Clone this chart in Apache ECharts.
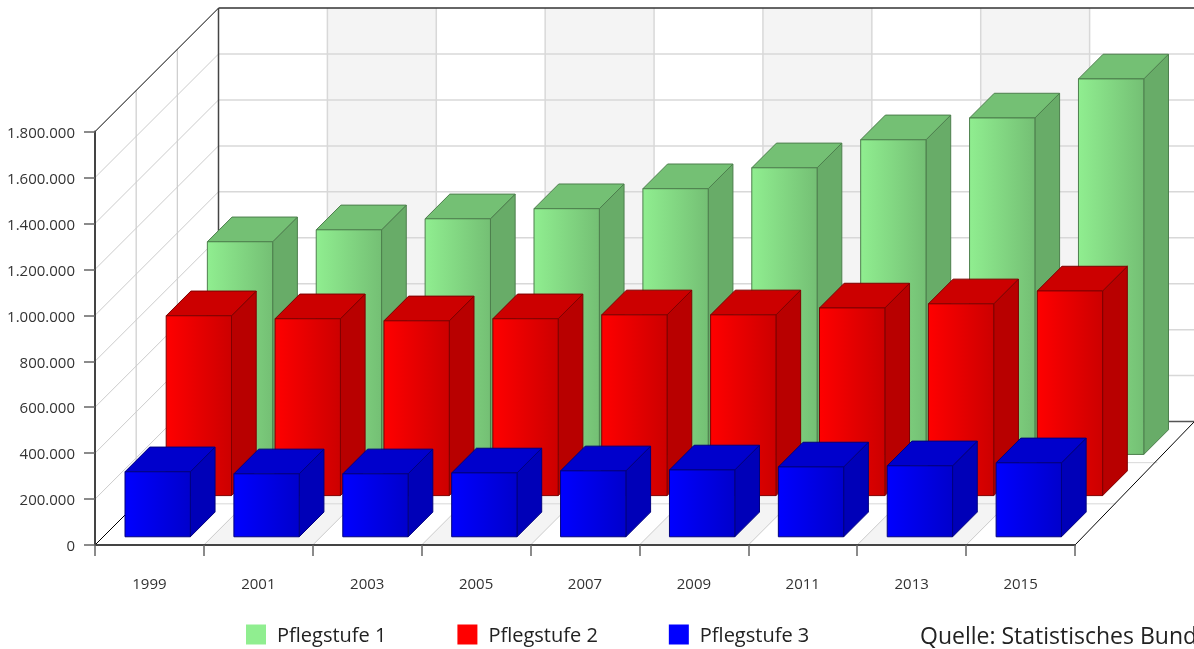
<!DOCTYPE html>
<html>
<head>
<meta charset="utf-8">
<style>html,body{margin:0;padding:0;background:#fff;overflow:hidden}#c{width:1194px;height:649px}</style>
<script src="https://cdn.jsdelivr.net/npm/echarts@6/dist/echarts.min.js"></script>
</head>
<body>
<div id="c"></div>
<script>
const categories = ['1999','2001','2003','2005','2007','2009','2011','2013','2015'];
const pflegestufe1 = [926000,978000,1026000,1070000,1157000,1248000,1370000,1465000,1635000];
const pflegestufe2 = [783000,770000,761000,770000,787000,787000,817000,835000,891000];
const pflegestufe3 = [283000,274000,274000,278000,287000,291000,304000,309000,322000];
const yTicks = [0,200000,400000,600000,800000,1000000,1200000,1400000,1600000,1800000];
const sourceText = 'Quelle: Statistisches Bund';

const DEPTH = 123.5, ROWS = 3, ROW = DEPTH / ROWS, BAR_DEPTH = ROW * 0.6;
const FONT = '"Open Sans"';
const GRID_COLOR = '#d8d8d8', SIDE_GRID = '#cccccc', BAND = '#f4f4f4';

function line(x1,y1,x2,y2,stroke,w){
  return {type:'line',silent:true,shape:{x1,y1,x2,y2},style:{stroke,lineWidth:w||1,fill:null}};
}
function poly(points,fill,stroke,w){
  return {type:'polygon',shape:{points},style:{fill,stroke:stroke||null,lineWidth:w||0}};
}
function renderWalls(params,api){
  const kids=[];
  const band=api.size([1,0])[0];
  const y0=api.coord([0,0])[1];
  const left=api.coord([0,0])[0]-band/2;
  const top=api.coord([0,yTicks[yTicks.length-1]])[1];
  const n=categories.length;
  const right=left+band*n;
  categories.forEach((c,i)=>{
    if(i%2===1){
      const a=left+i*band,b=a+band;
      kids.push(poly([[a,y0],[b,y0],[b+DEPTH,y0-DEPTH],[a+DEPTH,y0-DEPTH]],BAND));
      kids.push(poly([[a+DEPTH,y0-DEPTH],[b+DEPTH,y0-DEPTH],[b+DEPTH,top-DEPTH],[a+DEPTH,top-DEPTH]],BAND));
    }
  });
  yTicks.forEach((v,i)=>{
    if(i===yTicks.length-1) return;
    const y=api.coord([0,v])[1];
    kids.push(line(left,y,left+DEPTH,y-DEPTH,SIDE_GRID));
    if(i>0) kids.push(line(left+DEPTH,y-DEPTH,right+DEPTH,y-DEPTH,GRID_COLOR,1.5));
  });
  for(let i=1;i<=n;i++){
    const x=left+i*band;
    if(i<n) kids.push(line(x,y0,x+DEPTH,y0-DEPTH,SIDE_GRID));
    kids.push(line(x+DEPTH,y0-DEPTH,x+DEPTH,top-DEPTH,GRID_COLOR,1.5));
  }
  for(let r=1;r<ROWS;r++){
    const d=ROW*r;
    kids.push(line(left+d,y0-d,right+d,y0-d,GRID_COLOR));
    kids.push(line(left+d,y0-d,left+d,top-d,SIDE_GRID,1.2));
  }
  kids.push(line(left,top,left+DEPTH,top-DEPTH,'#000'));
  kids.push(line(left,y0,left+DEPTH,y0-DEPTH,'#000'));
  kids.push(line(right,y0,right+DEPTH-4,y0-DEPTH,'#000'));
  kids.push(line(left+DEPTH,top-DEPTH,left+DEPTH,y0-DEPTH,'#444',1.5));
  kids.push(line(left+DEPTH,top-DEPTH,right+DEPTH,top-DEPTH,'#333',1.5));
  kids.push(line(left+DEPTH,y0-DEPTH,right+DEPTH,y0-DEPTH,'#555',1.5));
  return {type:'group',children:kids};
}
function barRenderer(row,colors){
  return function(params,api){
    const band=api.size([1,0])[0];
    const w=band*0.6;
    const cat=api.value(0),val=api.value(1);
    const d=ROW*row+(ROW-BAR_DEPTH)/2;
    const p0=api.coord([cat,0]),p1=api.coord([cat,val]);
    const x0=p0[0]-w/2+d,x1=x0+w,yb=p0[1]-d,yt=p1[1]-d;
    const dd=BAR_DEPTH;
    const grad=new echarts.graphic.LinearGradient(0,0,1,0,[{offset:0,color:colors.base},{offset:1,color:colors.dark}]);
    return {type:'group',children:[
      poly([[x1,yb],[x1+dd,yb-dd],[x1+dd,yt-dd],[x1,yt]],colors.side,colors.stroke,1),
      poly([[x0,yt],[x1,yt],[x1+dd,yt-dd],[x0+dd,yt-dd]],colors.top,colors.stroke,1),
      poly([[x0,yb],[x1,yb],[x1,yt],[x0,yt]],grad,colors.stroke,1)
    ]};
  };
}
function barSeries(name,values,row,colors){
  return {
    type:'custom',name,z:3,
    itemStyle:{color:colors.base},
    encode:{x:0,y:1},
    data:values.map((v,i)=>[i,v]),
    renderItem:barRenderer(row,colors)
  };
}
const chart=echarts.init(document.getElementById('c'),null,{renderer:'canvas'});
chart.setOption({
  animation:false,
  backgroundColor:'#fff',
  grid:{left:95,right:119,top:131.6,bottom:104,containLabel:false},
  xAxis:{
    type:'category',data:categories,z:5,
    axisLine:{lineStyle:{color:'#444',width:2}},
    axisTick:{show:true,length:11,lineStyle:{color:'#666',width:1.5},alignWithLabel:false},
    axisLabel:{fontFamily:FONT,fontSize:15,color:'#333',margin:32},
    splitLine:{show:false}
  },
  yAxis:{
    type:'value',min:0,max:1800000,interval:200000,z:5,
    axisLine:{show:true,lineStyle:{color:'#444',width:2}},
    axisTick:{show:true,length:11,lineStyle:{color:'#666',width:1.5}},
    axisLabel:{fontFamily:FONT,fontSize:15,color:'#333',margin:20,verticalAlign:'top',lineHeight:4,
      formatter:v=>String(v).replace(/\B(?=(\d{3})+(?!\d))/g,'.')},
    splitLine:{show:false}
  },
  legend:{
    data:['Pflegstufe 1','Pflegstufe 2','Pflegstufe 3'],
    left:246,top:624.5,itemWidth:20,itemHeight:20,itemGap:71,icon:'rect',
    selectedMode:false,
    formatter:n=>'{a|'+n+'}',
    textStyle:{fontFamily:FONT,fontSize:20,color:'#222',
      rich:{a:{fontFamily:FONT,fontSize:20,color:'#222',padding:[3,0,0,6]}}},
    padding:0
  },
  graphic:[{type:'text',left:920,top:626,silent:true,
    style:{text:sourceText,fontFamily:FONT,fontSize:23,fill:'#222'}}],
  series:[
    {type:'custom',name:'walls',z:1,silent:true,data:[[0,0]],encode:{x:0,y:1},renderItem:renderWalls},
    barSeries('Pflegstufe 1',pflegestufe1,2,{base:'#90ee90',dark:'#74bf74',side:'#68ac68',top:'#74c074',stroke:'#4d7f4d'}),
    barSeries('Pflegstufe 2',pflegestufe2,1,{base:'#ff0000',dark:'#cc0000',side:'#b80000',top:'#cc0000',stroke:'#7f0000'}),
    barSeries('Pflegstufe 3',pflegestufe3,0,{base:'#0000ff',dark:'#0000cc',side:'#0000b8',top:'#0000cc',stroke:'#00007f'})
  ]
});
</script>
</body>
</html>
